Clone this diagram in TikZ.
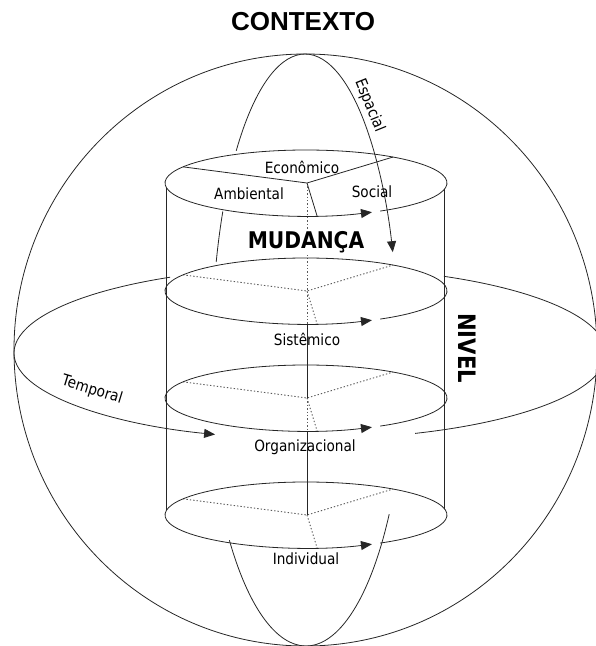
\documentclass[tikz,border=0pt]{standalone}
\usepackage{fontspec}
\setmainfont{DejaVu Sans}
\newfontfamily\handfont[FakeStretch=0.88]{DejaVu Sans}
\newfontfamily\titlefont{Liberation Sans}
\usetikzlibrary{arrows.meta,calc}

\begin{document}
\begin{tikzpicture}[x=1pt,y=-1pt,
  outline/.style={line width=0.8pt, draw=black!85},
  hidden/.style={line width=0.9pt, draw=black!65, dash pattern=on 1.4pt off 2pt},
  tipped/.style={-{Triangle[length=11pt,width=9pt]}},
  handtext/.style={font=\handfont\fontsize{15.5}{17}\selectfont, anchor=base, inner sep=0pt},
  boldtext/.style={font=\handfont\bfseries\fontsize{23}{25}\selectfont, anchor=base},
  titletext/.style={font=\titlefont\bfseries\fontsize{26}{28}\selectfont},
]
\clip (0,0) rectangle (596,646);

% outer sphere: context
\coordinate (sphere) at (305.5,350);
\draw[outline] (sphere) ellipse [x radius=291.5, y radius=296];

% centres of the four stacked discs
\coordinate (d1) at (306,183);
\coordinate (d2) at (306,291);
\coordinate (d3) at (306,398);
\coordinate (d4) at (306,515);
\coordinate (j1) at (307,183);
\coordinate (j2) at (307,291);
\coordinate (j3) at (307,398);
\coordinate (j4) at (307,515);

% sector lines: solid on the top disc, hidden on the lower ones
\draw[outline] ($(d1)+(209.3:141 and 33)$) -- (j1) -- ($(d1)+(-51.9:141 and 33)$);
\draw[outline] (j1) -- ($(d1)+(85.5:141 and 33)$);
\foreach \d/\j in {d2/j2,d3/j3,d4/j4}{
  \draw[hidden] ($(\d)+(209.3:141 and 33)$) -- (\j) -- ($(\d)+(-51.9:141 and 33)$);
  \draw[hidden] (\j) -- ($(\d)+(85.5:141 and 33)$);
}

% central axis
\draw[hidden] (j1) -- (307,324);
\draw[outline] (307,324) -- (j3);
\draw[hidden] (j3) -- (307,431);
\draw[outline] (307,431) -- (j4);

% cylinder walls
\draw[outline] (166.5,188) -- (166.5,510);
\draw[outline] (444.5,189) -- (444.5,509);

% the four discs, each with its direction arrow
\foreach \d in {d1,d2,d3,d4}{
  \draw[outline,tipped] ($(\d)+(58.3:141 and 33)$)
    arc[start angle=58.3, end angle=-297.9, x radius=141, y radius=33];
}

% spatial ring (vertical)
\coordinate (vring) at (305,350);
\coordinate (vringlow) at (306,350);
\draw[outline,tipped] ($(vring)+(-137.7:93 and 296)$)
  arc[start angle=-137.7, end angle=-19.3, x radius=93, y radius=296];
\draw[outline] ($(vring)+(197.3:93 and 296)$)
  arc[start angle=197.3, end angle=207.9, x radius=93, y radius=296];
\draw[outline] ($(vringlow)+(33.7:100 and 296)$)
  arc[start angle=33.7, end angle=140, x radius=100, y radius=296];

% temporal ring (horizontal)
\coordinate (hring) at (310,353);
\draw[outline,tipped] ($(hring)+(241.8:296 and 86)$)
  arc[start angle=241.8, end angle=108.7, x radius=296, y radius=86];
\draw[outline] ($(hring)+(-63.1:296 and 86)$)
  arc[start angle=-63.1, end angle=69.2, x radius=296, y radius=86];

% labels
\node[titletext] (contexto) at (303,22) {CONTEXTO};
\node[handtext] (economico) at (302,173) {Econômico};
\node[handtext] (ambiental) at (249,199) {Ambiental};
\node[handtext] (social) at (372,197) {Social};
\node[boldtext, fill=white, inner sep=2pt] (mudanca) at (306,248) {MUDANÇA};
\node[handtext] (sistemico) at (307,345) {Sistêmico};
\node[handtext] (organizacional) at (305,451) {Organizacional};
\node[handtext] (individual) at (306,564) {Individual};
\node[handtext, anchor=center, rotate=-17] (temporal) at (92,390) {Temporal};
\node[handtext, anchor=center, rotate=-68] (espacial) at (369.5,105.5) {Espacial};
\node[boldtext, anchor=center, rotate=-90, font=\handfont\bfseries\fontsize{24}{26}\selectfont] (nivel) at (467,348) {NIVEL};
\end{tikzpicture}
\end{document}
